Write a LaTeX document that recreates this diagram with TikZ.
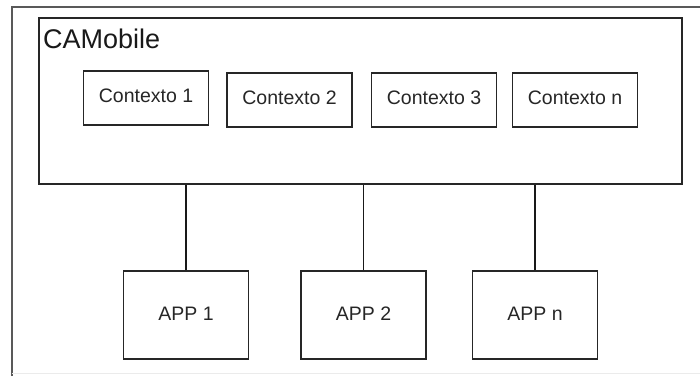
\documentclass[tikz,border=0pt]{standalone}
\usepackage{fontspec}
\setmainfont{Liberation Sans}
\begin{document}
\begin{tikzpicture}[x=1pt,y=-1pt,
  box/.style={draw=black!85,line width=1.5pt,inner sep=0pt,text=black!85,font=\fontsize{19.5}{22}\selectfont},
  ctxbox/.style={box,minimum width=125pt,minimum height=54pt,text height=14pt,text depth=6pt},
  appbox/.style={box,minimum width=125pt,minimum height=88pt,text height=14pt,text depth=4pt},
  link/.style={draw=black!90,line width=1.5pt}]
\useasboundingbox (0,0) rectangle (700,376);
% frame edges
\draw[black!65,line width=1.5pt] (12,376) -- (12,7) -- (700,7);
\draw[black!8,line width=1pt] (12,373) -- (700,373);
% main container
\node[draw=black!85,line width=1.5pt,minimum width=643pt,minimum height=166pt,inner sep=0pt] (cam) at (360.5,101) {};
\node[anchor=base west,inner sep=0pt,text=black!90,font=\fontsize{27}{30}\selectfont] (camlabel) at (43,48) {CAMobile};
% contexts
\node[ctxbox] (c1) at (146,98) {Contexto 1};
\node[ctxbox] (c2) at (289.5,100) {Contexto 2};
\node[ctxbox] (c3) at (434,100) {Contexto 3};
\node[ctxbox] (cn) at (575,100) {Contexto n};
% applications
\node[appbox] (a1) at (186,315) {APP 1};
\node[appbox] (a2) at (363.5,315) {APP 2};
\node[appbox] (an) at (535,315) {APP n};
% links
\draw[link] (a1.north) -- (a1.north |- cam.south);
\draw[link] (a2.north) -- (a2.north |- cam.south);
\draw[link] (an.north) -- (an.north |- cam.south);
\end{tikzpicture}
\end{document}
